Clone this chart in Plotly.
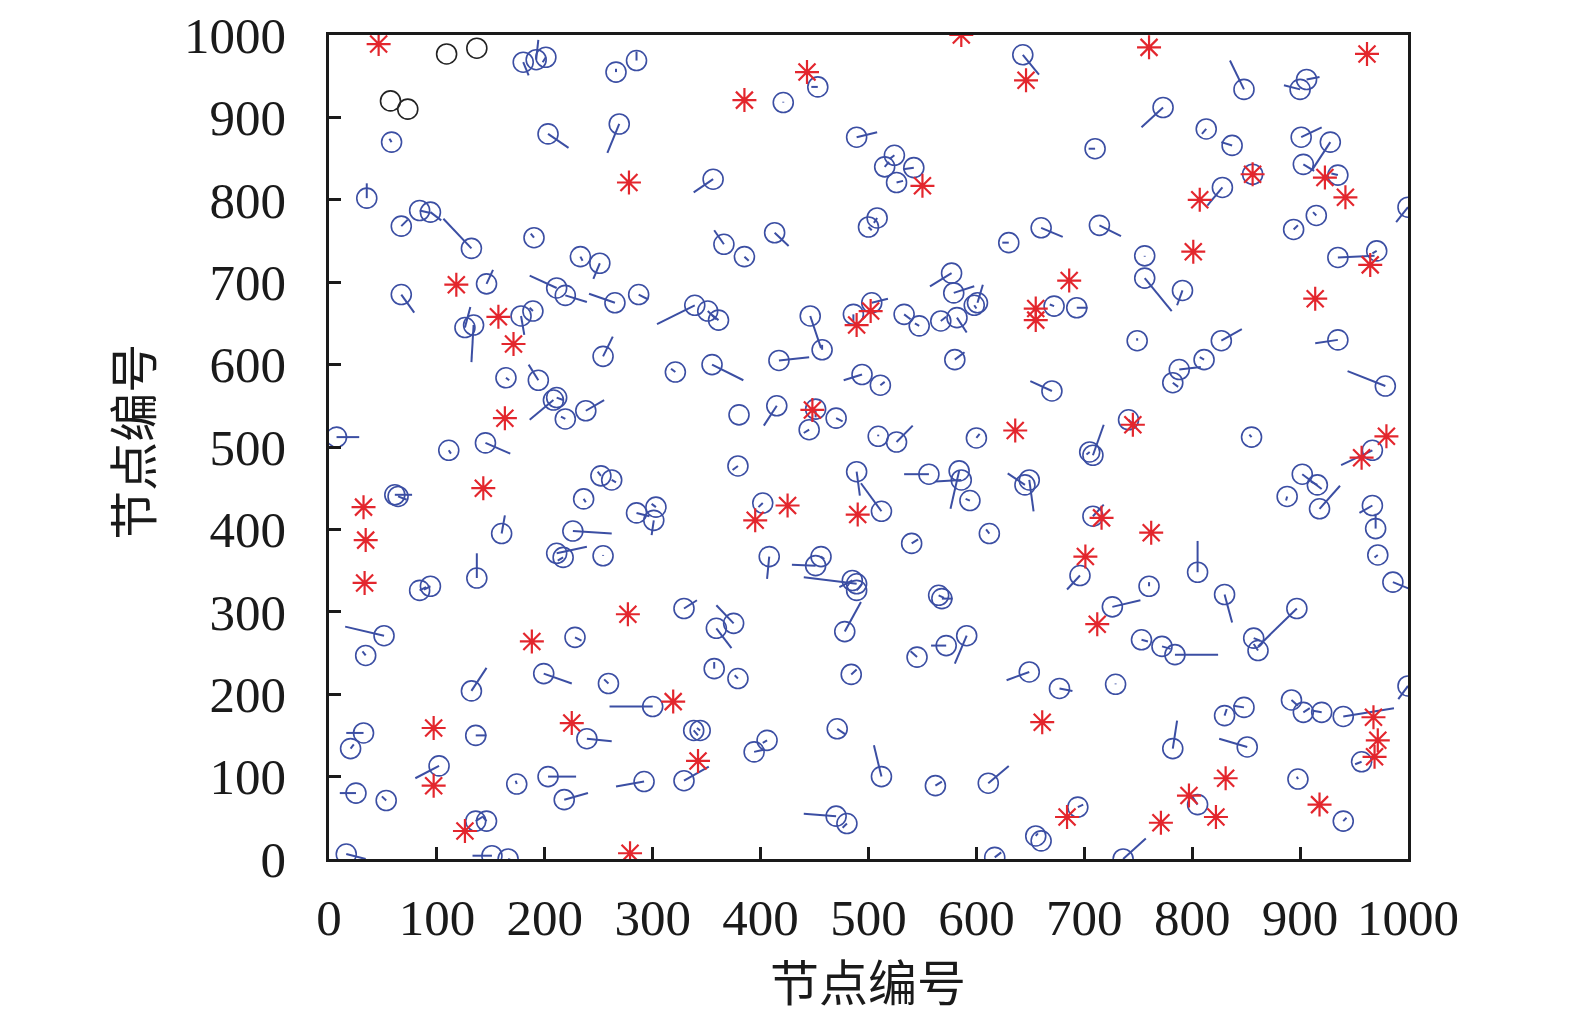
import plotly.graph_objects as go

# Blue nodes: position (x, y) and direction vector (dx, dy)
node_x = [180,192,201,266,285,58,203,269,35,67,84,94,132,190,233,251,146,67,211,219,265,287,339,351,361,
          643,453,421,489,524,515,542,526,356,508,500,366,385,413,630,660,577,579,601,
          714,773,813,837,710,848,900,906,901,928,903,856,935,828,1000,756,756,791,894,915,935,971,672,693,
          178,189,126,134,164,194,211,208,219,238,254,321,7,111,145,61,64,236,252,262,285,303,301,160,226,211,217,254,137,84,94,
          446,457,417,355,494,511,580,670,380,415,451,470,445,509,526,600,379,489,512,556,584,586,594,649,645,540,612,402,408,456,451,489,565,486,503,533,547,567,582,598,
          749,827,811,788,782,935,979,741,708,705,855,967,902,916,918,888,967,970,972,986,696,708,805,760,830,
          726,897,857,861,753,772,784,677,729,892,903,920,940,1000,830,848,782,851,957,898,805,940,694,655,736,
          329,359,375,485,489,478,568,357,379,484,545,572,591,649,471,338,344,329,394,406,512,562,611,470,480,660,617,
          51,34,132,199,228,259,300,32,20,136,239,102,25,53,174,203,218,292,136,146,16,151,166]
node_y = [967,970,973,955,969,870,880,892,802,768,787,785,741,754,731,723,698,685,693,684,675,685,672,665,654,
          976,937,918,876,854,840,839,821,825,778,767,746,731,760,748,766,711,687,675,
          769,912,886,866,862,934,934,946,876,870,843,831,830,815,791,732,705,690,764,781,730,738,671,669,
          659,665,645,648,584,581,560,557,534,544,610,591,512,496,505,442,440,437,465,460,420,427,411,395,398,371,366,368,341,326,331,
          659,618,605,600,588,575,606,568,539,550,546,535,521,513,506,511,477,470,422,467,471,460,435,460,454,383,395,432,367,367,356,334,320,661,675,661,647,653,657,672,
          629,629,606,594,578,630,574,533,490,494,512,496,467,454,425,440,429,401,369,336,344,416,348,331,321,
          306,304,268,253,266,258,248,207,212,193,178,178,173,210,174,184,134,136,118,97,66,46,63,28,0,
          304,280,286,338,326,276,316,231,219,224,245,259,271,227,158,156,156,95,130,144,100,89,92,52,43,22,2,
          271,247,204,225,269,213,185,153,134,150,146,113,80,71,91,100,72,94,46,46,6,4,0]
vec_dx = [5,2,-3,0,0,-2,19,-11,0,6,10,10,-26,-3,2,-6,6,12,-25,20,-24,9,-35,8,-6,
          15,-6,0,19,-4,4,-10,6,-18,-3,3,-9,4,13,-6,20,-20,19,5,
          20,-20,-4,-10,-6,-13,-15,12,19,-17,10,4,-6,-14,-11,0,25,-5,4,-3,34,-4,-4,10,
          3,-3,5,-2,3,-9,6,-22,-4,17,9,-4,21,2,23,16,8,2,-3,4,12,-4,-2,3,36,28,-5,0,0,6,-6,
          10,0,28,29,-17,4,9,-20,0,-12,0,6,-5,0,15,3,-5,3,-19,-23,-8,-24,-4,4,-16,6,-3,-4,-2,3,-22,-49,5,0,15,6,-4,5,9,2,
          0,19,-4,20,5,-21,-35,4,10,-3,-2,-29,18,-6,19,-1,-12,0,-3,15,-12,10,0,0,7,
          26,-36,6,-4,6,8,40,12,0,6,6,-8,47,-9,2,-10,4,-26,-6,-1,-5,3,5,2,21,
          12,14,-16,-12,5,15,10,0,-3,5,-6,-14,-11,-21,8,4,-3,23,10,-4,-7,6,19,-30,-4,0,6,
          -36,-3,14,26,6,-4,-40,-16,3,10,23,-22,-15,-4,-1,26,22,-26,6,-4,18,-18,4]
vec_dy = [-16,24,-6,4,11,4,-17,-35,18,8,-3,-10,36,5,-5,-19,17,-22,15,-8,11,-6,-23,-10,6,
          -24,0,1,6,-4,6,-2,2,-16,-6,-4,17,-5,-16,0,-11,-16,8,22,
          -13,-24,-6,4,0,35,5,3,12,-34,-8,0,2,-22,-18,-1,-40,-18,5,4,2,-3,2,0,
          -23,4,25,-45,-3,19,-3,-24,3,13,24,4,0,-4,-13,0,-4,-4,5,-3,-4,4,-18,22,-3,8,-4,1,30,4,-4,
          -39,6,4,-19,-7,4,9,12,0,-24,-10,-4,-4,2,20,5,-5,-29,34,0,-46,-2,2,-38,14,5,5,-5,-27,-3,1,8,-3,-8,5,-6,3,5,-18,-4,
          3,14,3,3,-5,-4,18,-5,37,-3,3,-18,-18,4,28,-5,-9,18,-3,-8,-17,14,38,5,-34,
          8,-46,-3,8,-2,-3,0,-3,1,-7,5,2,10,-16,8,2,34,10,-3,3,10,4,3,3,25,
          10,-24,22,-8,8,36,0,8,4,6,7,0,-34,-10,-7,-6,3,17,3,-3,38,5,21,3,-5,0,6,
          11,5,28,-12,-4,5,0,0,5,0,-3,-15,0,5,4,0,8,-6,5,6,-6,0,-2]

# Black (isolated) nodes
black_x = [109, 137, 57, 73]
black_y = [977, 984, 920, 910]

# Red star nodes
red_x = [46,586,646,443,385,278,760,962,856,923,942,807,965,914,801,686,550,118,157,171,489,502,655,655,
         163,143,32,34,33,395,425,490,636,745,980,957,716,762,701,712,188,277,319,97,225,97,126,279,342,661,
         968,972,969,831,797,822,771,918,684,448]
red_y = [989,1000,945,955,921,821,985,977,831,827,803,800,721,680,737,702,817,697,658,625,648,665,668,654,
         535,450,427,387,335,411,429,418,520,527,513,487,414,396,367,285,264,297,191,159,165,89,34,7,119,166,
         172,144,124,98,77,51,44,66,51,545]

axis_title = "节点编号"

BLUE = "#3b4ea3"
RED = "#e3262d"
INK = "#1a1a1a"

seg_x, seg_y = [], []
for x, y, dx, dy in zip(node_x, node_y, vec_dx, vec_dy):
    seg_x += [x, x + dx, None]
    seg_y += [y, y + dy, None]

fig = go.Figure()
fig.add_trace(go.Scatter(x=seg_x, y=seg_y, mode="lines",
                         line=dict(color=BLUE, width=2), hoverinfo="skip"))
fig.add_trace(go.Scatter(x=node_x, y=node_y, mode="markers",
                         marker=dict(symbol="circle-open", size=20, color=BLUE,
                                     line=dict(color=BLUE, width=1.6))))
fig.add_trace(go.Scatter(x=black_x, y=black_y, mode="markers",
                         marker=dict(symbol="circle-open", size=20, color="#222222",
                                     line=dict(color="#222222", width=1.6))))
fig.add_trace(go.Scatter(x=red_x, y=red_y, mode="markers",
                         marker=dict(symbol="asterisk-open", size=20, color=RED,
                                     line=dict(color=RED, width=2.2))))

tickfont = dict(family="Liberation Serif, Times New Roman, serif", size=51, color=INK)
titlefont = dict(family="Noto Sans CJK SC", size=49, color=INK)
axis_common = dict(range=[0, 1000], dtick=100, ticks="inside", ticklen=12, tickwidth=2.5,
                   tickcolor=INK, showline=True, linecolor=INK, linewidth=2.8,
                   mirror=True, showgrid=False, zeroline=False, tickfont=tickfont,
                   automargin=False, ticklabeloverflow="allow")

fig.update_layout(
    width=1575, height=1018,
    margin=dict(l=321, r=175, t=27, b=167),
    paper_bgcolor="white", plot_bgcolor="white",
    showlegend=False,
    xaxis=dict(**axis_common, ticklabelstandoff=12),
    yaxis=dict(**axis_common, ticklabelstandoff=30),
    annotations=[
        dict(text=axis_title, xref="paper", yref="paper", x=0.4995, y=-0.146,
             showarrow=False, font=titlefont, xanchor="center", yanchor="middle"),
        dict(text=axis_title, xref="paper", yref="paper", x=-0.1848, y=0.506,
             showarrow=False, font=titlefont, textangle=-90,
             xanchor="center", yanchor="middle"),
    ],
)

fig.write_html("out.html")
